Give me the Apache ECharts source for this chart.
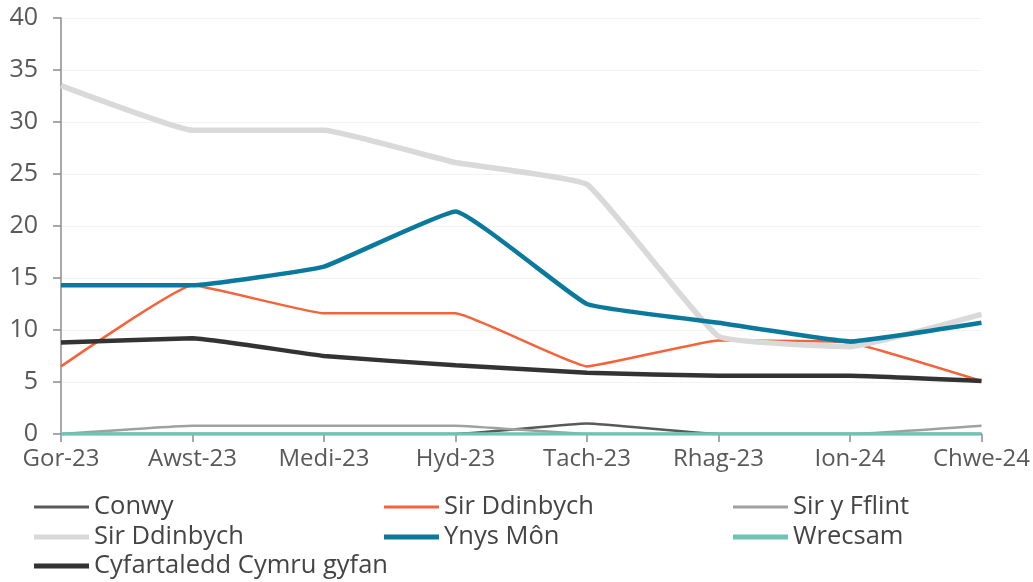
<!DOCTYPE html>
<html>
<head>
<meta charset="utf-8">
<script src="https://cdn.jsdelivr.net/npm/echarts@6/dist/echarts.min.js"></script>
<style>html,body{margin:0;padding:0;background:#fff}#c{width:1033px;height:582px}</style>
</head>
<body>
<div id="c"></div>
<script>
const categories = ['Gor-23','Awst-23','Medi-23','Hyd-23','Tach-23','Rhag-23','Ion-24','Chwe-24'];
const conwy = [0, 0, 0, 0, 1.0, 0, 0, 0];
const sirDdinbych = [6.5, 14.3, 11.6, 11.6, 6.5, 9.0, 8.8, 5.1];
const sirYFflint = [0, 0.8, 0.8, 0.8, 0, 0, 0, 0.8];
const sirDdinbych2 = [33.5, 29.2, 29.2, 26.1, 24.0, 9.4, 8.4, 11.5];
const ynysMon = [14.3, 14.3, 16.1, 21.4, 12.5, 10.7, 8.9, 10.7];
const wrecsam = [0, 0, 0, 0, 0, 0, 0, 0];
const cyfartaledd = [8.8, 9.2, 7.5, 6.6, 5.9, 5.6, 5.6, 5.1];
const yTicks = [0, 5, 10, 15, 20, 25, 30, 35, 40];

const names = ['Conwy','Sir Ddinbych','Sir y Fflint','Sir Ddinbych\u200b','Ynys Môn','Wrecsam','Cyfartaledd Cymru gyfan'];
const colors = ['#595959','#F4633A','#A0A0A0','#D9D9D9','#0A7A9C','#6EC3B4','#333333'];
const widths = [2.5, 2.5, 2.5, 5.5, 4.5, 3.5, 4.5];
const datas = [conwy, sirDdinbych, sirYFflint, sirDdinbych2, ynysMon, wrecsam, cyfartaledd];
// legend slots: [left, top] per series index
const legendPos = [[34,494],[384,494],[733,494],[34,524],[384,524],[733,524],[34,553]];
const legendThick = [3, 3, 3, 5, 5, 5, 5];

const font = 'Open Sans';
const chart = echarts.init(document.getElementById('c'), null, {renderer:'canvas'});
const legends = names.map((n,i) => ({
  left:legendPos[i][0], top:legendPos[i][1], itemWidth:55, itemHeight:legendThick[i],
  icon:'rect', selectedMode:false, padding:0,
  data:[{name:n, itemStyle:{color:colors[i]}}],
  textStyle:{fontFamily:font, fontSize:25.5, color:'#444', lineHeight:26}
}));
chart.setOption({
  animation:false,
  backgroundColor:'#fff',
  color: colors,
  grid:{left:61, right:51, top:18, bottom:148},
  legend:legends,
  xAxis:{
    type:'category', data:categories, boundaryGap:false,
    axisLine:{lineStyle:{color:'#8c8c8c', width:1.5}},
    axisTick:{show:true, length:8, lineStyle:{color:'#8c8c8c', width:1.5}},
    axisLabel:{fontFamily:font, fontSize:24, color:'#595959', margin:13, interval:0}
  },
  yAxis:{
    type:'value', min:yTicks[0], max:yTicks[yTicks.length-1], interval:5,
    axisLine:{show:true, lineStyle:{color:'#8c8c8c', width:1.5}},
    axisTick:{show:true, length:8, lineStyle:{color:'#8c8c8c', width:1.5}},
    axisLabel:{fontFamily:font, fontSize:25, color:'#595959', margin:23},
    splitLine:{lineStyle:{color:'#f3f3f3', width:1}}
  },
  series: names.map((n,i) => ({
    name:n, type:'line', data:datas[i], symbol:'none', smooth:0.1,
    lineStyle:{color:colors[i], width:widths[i]}, itemStyle:{color:colors[i]}
  }))
});
</script>
</body>
</html>
